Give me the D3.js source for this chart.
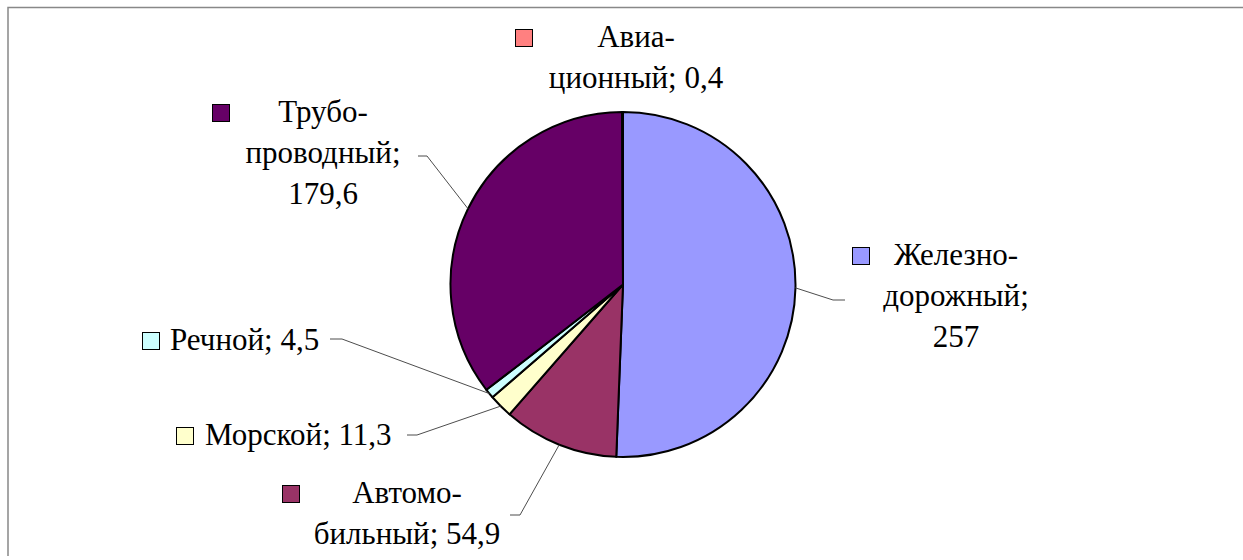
<!DOCTYPE html>
<html>
<head>
<meta charset="utf-8">
<script src="https://cdn.jsdelivr.net/npm/d3@7/dist/d3.min.js"></script>
<style>body { margin: 0; overflow: hidden; }</style>
</head>
<body>
<script>

// data
const categories = ["Железно-дорожный", "Автомо-бильный", "Морской", "Речной", "Трубо-проводный", "Авиа-ционный"]
const values = [257, 54.9, 11.3, 4.5, 179.6, 0.4]
const colors = ["#9999FF", "#993366", "#FFFFCC", "#CCFFFF", "#660066", "#FF8080"]

// label placement (hand placed like in the original chart)
const labelLayout = [
    {cx: 956, y: 265, keyX: 852, valueLine: true, elbow: [833, 300], end: [845, 300]},
    {cx: 407, y: 503, keyX: 282, valueLine: false, elbow: [520, 515], end: [510, 515]},
    {x: 205, y: 445, keyX: 176, elbow: [417, 435], end: [407, 435]},
    {x: 170, y: 350, keyX: 142, elbow: [342, 339], end: [330, 339]},
    {cx: 323, y: 122, keyX: 212, valueLine: true, elbow: [427, 156], end: [418, 156]},
    {cx: 636, y: 47, keyX: 515, valueLine: false}
]

const CENTER = {X: 623, Y: 284.5}
const RADIUS = 172.5
const LINE_H = 41
const KEY = 18

const svg = d3.select("body").append("svg").attr("width", 1243).attr("height", 556)

const fmt = v => String(v).replace(".", ",")

// labels first, same pattern as the font test that rendered serif
categories.forEach((name, i) => {
    const L = labelLayout[i]
    const parts = name.split("-")
    const val = fmt(values[i])
    const lines = parts.length === 1
        ? [`${name}; ${val}`]
        : (L.valueLine ? [parts[0] + "-", parts[1] + ";", val] : [parts[0] + "-", `${parts[1]}; ${val}`])
    lines.forEach((t, k) => {
        svg.append("text")
            .attr("x", parts.length === 1 ? L.x : L.cx)
            .attr("y", L.y + k * LINE_H)
            .style("font-family", `"Liberation Serif"`)
            .attr("font-size", "31px")
            .attr("text-anchor", parts.length === 1 ? "start" : "middle")
            .text(t)
    })
    svg.append("rect")
        .attr("x", L.keyX + 0.5)
        .attr("y", L.y - KEY + 0.5)
        .attr("width", KEY - 1)
        .attr("height", KEY - 1)
        .attr("fill", colors[i])
        .attr("stroke", "#000")
        .attr("stroke-width", 1)
})

// chart frame (clipped at right and bottom)
svg.append("path")
    .attr("d", "M8,556 V7.5 H1243")
    .attr("fill", "none")
    .attr("stroke", "#888")
    .attr("stroke-width", 1.5)

const pie = d3.pie()
    .sort(null)
    .value(d => d)

const arcs = pie(values)

const arc = d3.arc()
    .innerRadius(0)
    .outerRadius(RADIUS)

const edgeArc = d3.arc()
    .innerRadius(RADIUS)
    .outerRadius(RADIUS)

svg.append("g")
    .attr("transform", `translate(${CENTER.X}, ${CENTER.Y})`)
    .selectAll("path")
    .data(arcs)
    .enter()
    .append("path")
    .attr("d", arc)
    .attr("fill", (d, i) => colors[i])
    .attr("stroke", "#000")
    .attr("stroke-width", 2)
    .attr("stroke-linejoin", "round")

// leader lines
arcs.forEach((d, i) => {
    const L = labelLayout[i]
    if (!L.elbow) return
    const p = edgeArc.centroid(d)
    svg.append("path")
        .attr("d", d3.line()([[p[0] + CENTER.X, p[1] + CENTER.Y], L.elbow, L.end]))
        .attr("fill", "none")
        .attr("stroke", "#4d4d4d")
        .attr("stroke-width", 1)
})

</script>
</body>
</html>
